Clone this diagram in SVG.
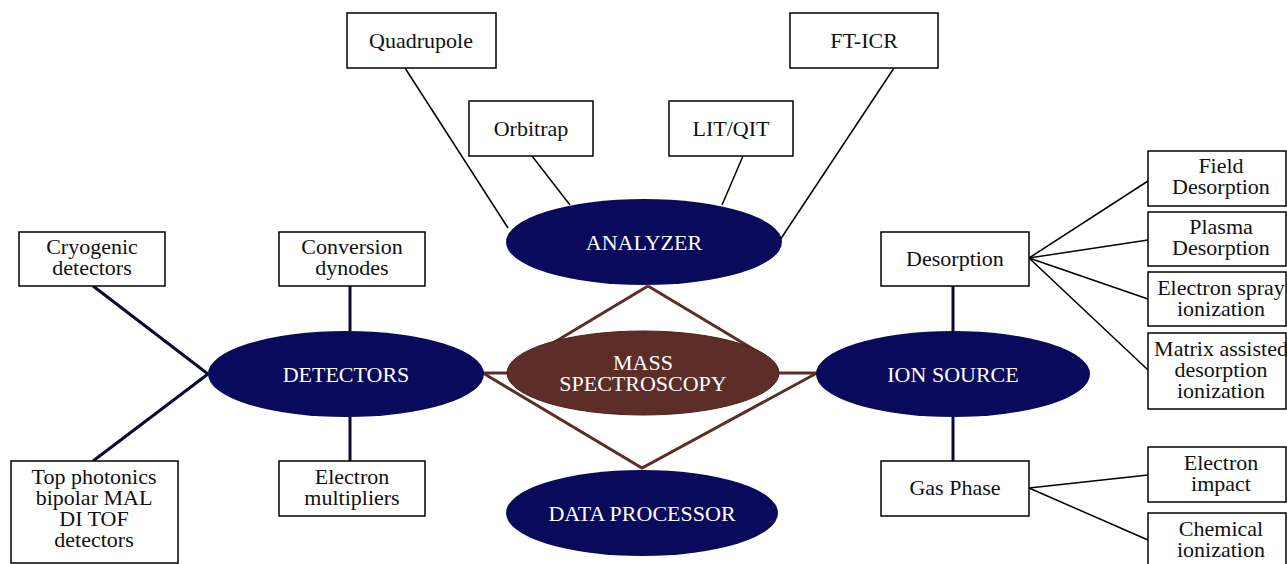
<svg xmlns="http://www.w3.org/2000/svg" width="1287" height="564" viewBox="0 0 1287 564" font-family="'Liberation Serif', 'DejaVu Serif', serif">
  <style>
    text { font-family: "Liberation Serif", "DejaVu Serif", serif; font-size: 22px; text-anchor: middle; }
    .box rect { fill: #ffffff; stroke: #000000; stroke-width: 1.5; }
    .box text { fill: #111111; }
    .hub ellipse { fill: #0a0a5c; }
    .hub text { fill: #ffffff; }
    .core ellipse { fill: #5c2e27; stroke: #4a241e; stroke-width: 1; }
    .thin { stroke: #000000; stroke-width: 1.5; fill: none; }
    .thick { stroke: #0a0a33; stroke-width: 3; fill: none; }
    .brown { stroke: #5c2e27; stroke-width: 3; fill: none; }
  </style>

  <!-- connectors -->
  <g id="connectors">
    <!-- analyzer branches -->
    <line class="thin" x1="405" y1="68" x2="508" y2="228"/>
    <line class="thin" x1="532" y1="156" x2="570" y2="205"/>
    <line class="thin" x1="743" y1="156" x2="722" y2="205"/>
    <line class="thin" x1="894" y1="68" x2="780" y2="240"/>
    <!-- detector branches -->
    <line class="thick" x1="93" y1="286" x2="208" y2="374"/>
    <line class="thick" x1="93" y1="461" x2="208" y2="374"/>
    <line class="thick" x1="350" y1="286" x2="350" y2="331"/>
    <line class="thick" x1="350" y1="417" x2="350" y2="461"/>
    <!-- ion source branches -->
    <line class="thick" x1="953" y1="286" x2="953" y2="331"/>
    <line class="thick" x1="953" y1="417" x2="953" y2="461"/>
    <line class="thin" x1="1029" y1="258" x2="1148" y2="181"/>
    <line class="thin" x1="1029" y1="258" x2="1148" y2="240"/>
    <line class="thin" x1="1029" y1="258" x2="1148" y2="299"/>
    <line class="thin" x1="1029" y1="258" x2="1148" y2="370"/>
    <line class="thin" x1="1029" y1="488" x2="1148" y2="475"/>
    <line class="thin" x1="1029" y1="488" x2="1148" y2="540"/>
    <!-- central diamond; upper edges run in behind the core ellipse -->
    <line class="brown" x1="648" y1="286" x2="533" y2="355"/>
    <line class="brown" x1="648" y1="286" x2="763" y2="355"/>
    <polyline class="brown" points="483,373 642,468 817,373"/>
    <line class="brown" x1="483" y1="373" x2="510" y2="373"/>
    <line class="brown" x1="777" y1="373" x2="817" y2="373"/>
  </g>

  <!-- analyzer leaves -->
  <g id="quadrupole" class="box"><rect x="347" y="13" width="149" height="55"/><text x="421" y="48">Quadrupole</text></g>
  <g id="orbitrap" class="box"><rect x="469" y="101" width="124" height="55"/><text x="531" y="136">Orbitrap</text></g>
  <g id="litqit" class="box"><rect x="669" y="101" width="124" height="55"/><text x="731" y="136">LIT/QIT</text></g>
  <g id="fticr" class="box"><rect x="790" y="13" width="148" height="55"/><text x="864" y="48">FT-ICR</text></g>

  <!-- detector leaves -->
  <g id="cryogenic" class="box"><rect x="19" y="232" width="146" height="54"/><text x="92" y="254">Cryogenic</text><text x="92" y="275">detectors</text></g>
  <g id="conversion" class="box"><rect x="279" y="232" width="146" height="54"/><text x="352" y="254">Conversion</text><text x="352" y="275">dynodes</text></g>
  <g id="topphotonics" class="box"><rect x="11" y="461" width="167" height="102"/><text x="94" y="484">Top photonics</text><text x="94" y="505">bipolar MAL</text><text x="94" y="526">DI TOF</text><text x="94" y="547">detectors</text></g>
  <g id="multipliers" class="box"><rect x="279" y="461" width="146" height="55"/><text x="352" y="484">Electron</text><text x="352" y="505">multipliers</text></g>

  <!-- ion source leaves -->
  <g id="desorption" class="box"><rect x="881" y="232" width="148" height="54"/><text x="955" y="266">Desorption</text></g>
  <g id="gasphase" class="box"><rect x="881" y="461" width="148" height="55"/><text x="955" y="495">Gas Phase</text></g>
  <g id="fielddesorption" class="box"><rect x="1148" y="151" width="138" height="55"/><text x="1221" y="173">Field</text><text x="1221" y="194">Desorption</text></g>
  <g id="plasmadesorption" class="box"><rect x="1148" y="212" width="138" height="54"/><text x="1221" y="234">Plasma</text><text x="1221" y="255">Desorption</text></g>
  <g id="electronspray" class="box"><rect x="1148" y="272" width="138" height="54"/><text x="1221" y="295">Electron spray</text><text x="1221" y="316">ionization</text></g>
  <g id="matrixassisted" class="box"><rect x="1148" y="333" width="138" height="76"/><text x="1221" y="356">Matrix assisted</text><text x="1221" y="377">desorption</text><text x="1221" y="398">ionization</text></g>
  <g id="electronimpact" class="box"><rect x="1148" y="447" width="138" height="55"/><text x="1221" y="470">Electron</text><text x="1221" y="491">impact</text></g>
  <g id="chemical" class="box"><rect x="1148" y="513" width="138" height="55"/><text x="1221" y="536">Chemical</text><text x="1221" y="557">ionization</text></g>

  <!-- hubs -->
  <g id="analyzer" class="hub"><ellipse cx="644" cy="242" rx="138" ry="43"/><text x="644" y="250">ANALYZER</text></g>
  <g id="detectors" class="hub"><ellipse cx="346" cy="374" rx="138" ry="43"/><text x="346" y="382">DETECTORS</text></g>
  <g id="ionsource" class="hub"><ellipse cx="953" cy="374" rx="137" ry="43"/><text x="953" y="382">ION SOURCE</text></g>
  <g id="dataprocessor" class="hub"><ellipse cx="642" cy="513" rx="136" ry="43"/><text x="642" y="521">DATA PROCESSOR</text></g>
  <g id="massspectroscopy" class="hub core"><ellipse cx="643" cy="373" rx="136" ry="42"/><text x="643" y="370">MASS</text><text x="643" y="391">SPECTROSCOPY</text></g>
</svg>
